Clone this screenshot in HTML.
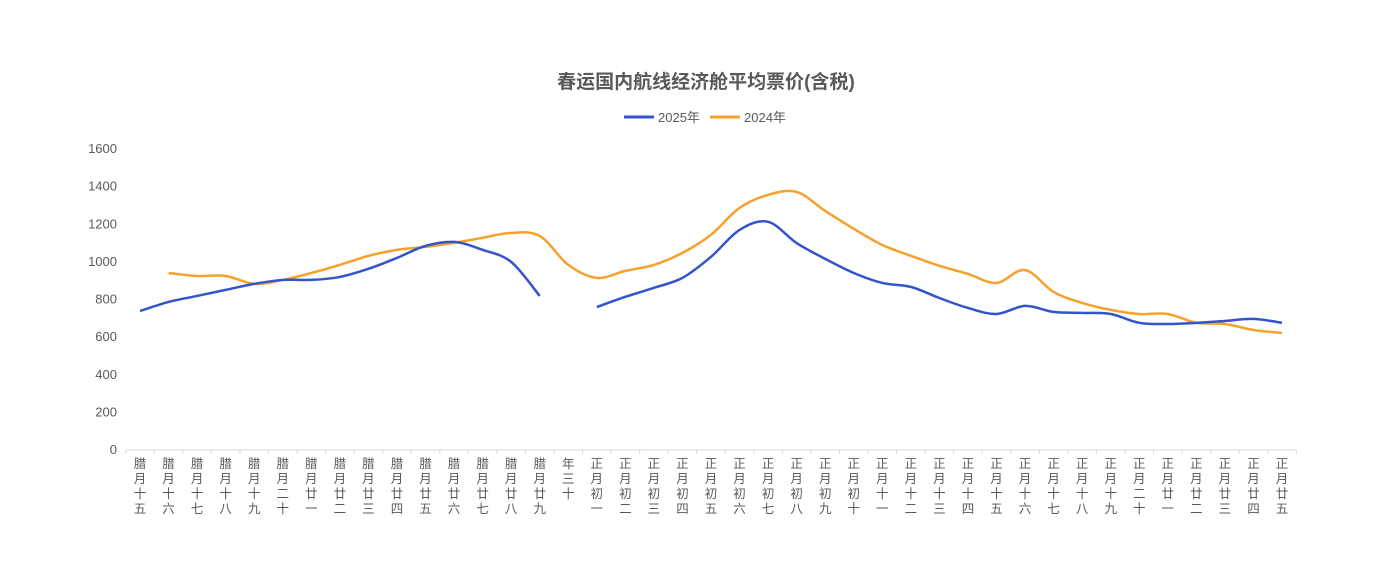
<!DOCTYPE html>
<html><head><meta charset="utf-8"><style>
body{margin:0;background:#fff;}
svg{display:block;font-family:"Liberation Sans","Noto Sans CJK SC",sans-serif;}
</style></head><body>
<svg id="chart" width="1382" height="566" viewBox="0 0 1382 566">
<text x="706" y="88" text-anchor="middle" font-size="19" font-weight="bold" fill="#595959">春运国内航线经济舱平均票价(含税)</text>
<g>
<g><line x1="624" y1="117" x2="654" y2="117" stroke="#3355cc" stroke-width="3"/><text x="658" y="122" font-size="13" fill="#595959">2025年</text></g>
<g><line x1="710" y1="117" x2="740" y2="117" stroke="#f7a12b" stroke-width="3"/><text x="744" y="122" font-size="13" fill="#595959">2024年</text></g>
</g>
<g id="axes"></g><g id="series"></g>
</svg>
<script>
const categories=["腊月十五","腊月十六","腊月十七","腊月十八","腊月十九","腊月二十","腊月廿一","腊月廿二","腊月廿三","腊月廿四","腊月廿五","腊月廿六","腊月廿七","腊月廿八","腊月廿九","年三十","正月初一","正月初二","正月初三","正月初四","正月初五","正月初六","正月初七","正月初八","正月初九","正月初十","正月十一","正月十二","正月十三","正月十四","正月十五","正月十六","正月十七","正月十八","正月十九","正月二十","正月廿一","正月廿二","正月廿三","正月廿四","正月廿五"];
const values2025=[739,787,819,851,883,904,904,920,963,1021,1085,1106,1064,1000,819,null,760,814,862,915,1027,1170,1213,1100,1016,941,888,867,808,755,723,766,734,729,723,676,670,676,686,697,676];
const values2024=[null,941,925,925,883,904,941,984,1032,1064,1080,1101,1128,1154,1138,984,915,952,984,1048,1144,1287,1356,1372,1271,1176,1090,1032,979,936,888,957,840,782,745,723,723,676,670,638,622];
const yTicks=[0,200,400,600,800,1000,1200,1400,1600];
const NS="http://www.w3.org/2000/svg";
const x0=140,x1=1282,yBase=450,yTop=149;
const xs=i=>x0+(x1-x0)*i/(categories.length-1);
const ys=v=>yBase-(yBase-yTop)*v/1600;
function mk(t,a,p){const e=document.createElementNS(NS,t);for(const k in a)e.setAttribute(k,a[k]);p.appendChild(e);return e;}
const ax=document.getElementById('axes');
yTicks.forEach(v=>{const t=mk('text',{x:117,y:ys(v)+4,'text-anchor':'end','font-size':13,fill:'#595959'},ax);t.textContent=v;

});
const base=mk('line',{x1:126,x2:1297,y1:yBase,y2:yBase,stroke:'#d9d9d9'},ax);


const step=(x1-x0)/(categories.length-1);
for(let i=0;i<=categories.length;i++){const tx=x0-step/2+i*step;mk('line',{x1:tx,x2:tx,y1:yBase,y2:yBase+4,stroke:'#d9d9d9'},ax);}
categories.forEach((c,i)=>{const g=mk('g',{},ax);


[...c].forEach((ch,j)=>{const t=mk('text',{x:xs(i),y:468+j*15,'text-anchor':'middle','font-size':12.5,fill:'#595959'},g);t.textContent=ch;});});
function path(vals){let segs=[],cur=[];vals.forEach((v,i)=>{if(v==null){if(cur.length)segs.push(cur);cur=[];}else cur.push([xs(i),ys(v)]);});if(cur.length)segs.push(cur);
let d='';segs.forEach(p=>{d+='M'+p[0][0]+','+p[0][1];for(let i=0;i<p.length-1;i++){const a=p[i-1]||p[i],b=p[i],c=p[i+1],e=p[i+2]||c;const k=6;d+=`C${b[0]+(c[0]-a[0])/k},${b[1]+(c[1]-a[1])/k} ${c[0]-(e[0]-b[0])/k},${c[1]-(e[1]-b[1])/k} ${c[0]},${c[1]}`;}});return d;}
const s=document.getElementById('series');
const p24=mk('path',{d:path(values2024),fill:'none',stroke:'#f7a12b','stroke-width':2.5},s);


const p25=mk('path',{d:path(values2025),fill:'none',stroke:'#3355cc','stroke-width':2.5},s);


</script>
</body></html>
